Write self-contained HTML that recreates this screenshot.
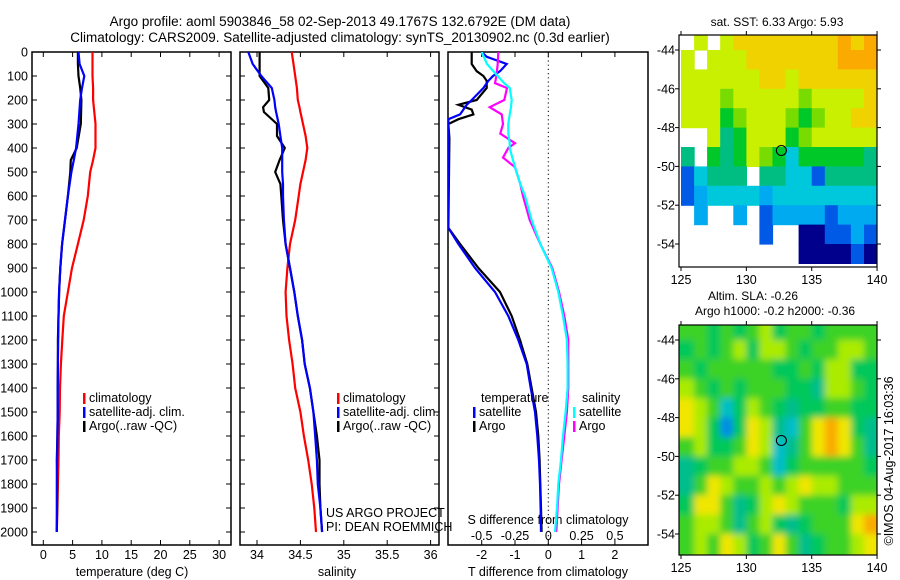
<!DOCTYPE html>
<html><head><meta charset="utf-8"><style>
html,body{margin:0;padding:0;background:#fff;width:900px;height:580px;overflow:hidden}
svg text{font-family:"Liberation Sans",sans-serif;fill:#000}
</style></head><body>
<svg id="s" width="900" height="580" xmlns="http://www.w3.org/2000/svg">
<text x="340" y="26" font-size="13.5" text-anchor="middle">Argo profile: aoml 5903846_58 02-Sep-2013 49.1767S 132.6792E (DM data)</text>
<text x="340" y="42" font-size="13.5" text-anchor="middle">Climatology: CARS2009. Satellite-adjusted climatology: synTS_20130902.nc (0.3d earlier)</text>
<g id="g"></g>
</svg>
<script>
// ---- profile data ----
const tDepth = [0,50,100,150,200,300,400,450,500,600,700,800,900,1000,1100,1200,1300,1400,1500,1600,1700,1800,1900,2000];
const tClim  = [8.4,8.4,8.4,8.5,8.5,8.9,8.9,8.5,8.0,7.6,6.9,5.9,4.9,4.2,3.5,3.25,3.0,2.85,2.8,2.65,2.6,2.5,2.4,2.3];
const tSat   = [6.0,6.2,7.0,6.6,6.3,6.0,5.6,5.2,4.8,4.2,3.7,3.2,2.9,2.7,2.6,2.55,2.5,2.45,2.45,2.4,2.35,2.3,2.3,2.3];
const tArgo  = [5.9,5.9,6.0,6.3,6.5,6.4,5.7,4.7,4.6,4.2,3.7,3.2,2.9,2.7,2.6,2.5,2.5,2.45,2.45,2.4,2.3,2.35,2.35,2.3];
const sDepth = [0,50,100,150,200,230,250,300,350,400,450,500,550,600,700,800,900,1000,1100,1200,1300,1400,1500,1600,1700,1800,1900,2000];
const sClim  = [34.40,34.42,34.44,34.46,34.47,34.49,34.50,34.53,34.56,34.58,34.56,34.53,34.50,34.48,34.44,34.38,34.35,34.33,34.34,34.37,34.41,34.44,34.50,34.54,34.59,34.63,34.66,34.68];
const sSat   = [33.90,33.95,34.05,34.17,34.20,34.21,34.22,34.25,34.27,34.29,34.29,34.29,34.30,34.30,34.31,34.33,34.38,34.43,34.47,34.52,34.55,34.61,34.65,34.67,34.69,34.70,34.73,34.75];
const sArgo  = [34.03,34.03,34.03,34.13,34.14,34.07,34.08,34.23,34.23,34.32,34.26,34.21,34.27,34.28,34.30,34.33,34.38,34.43,34.47,34.52,34.55,34.61,34.65,34.69,34.72,34.72,34.73,34.75];
const dtDepth = [0,20,50,80,100,120,150,200,220,240,260,280,300,360,733,800,900,1000,1100,1200,1300,1400,1500,1600,1700,1800,1900,2000];
const dtSat   = [-2.0,-1.85,-1.25,-1.45,-1.66,-1.8,-1.95,-2.3,-2.45,-2.55,-2.65,-3.0,-3.0,-3.0,-3.0,-2.7,-2.2,-1.6,-1.2,-0.9,-0.65,-0.53,-0.4,-0.33,-0.28,-0.25,-0.23,-0.22];
const dtArgo  = [-2.3,-2.3,-2.3,-2.15,-1.95,-1.85,-1.85,-2.15,-2.7,-2.3,-2.25,-2.7,-3.0,-2.97,-3.0,-2.65,-2.1,-1.45,-1.1,-0.85,-0.63,-0.5,-0.37,-0.3,-0.26,-0.24,-0.22,-0.2];
const dsDepth = [0,50,100,130,150,200,230,260,300,340,380,400,440,480,550,600,700,800,900,1000,1100,1200,1300,1400,1500,1600,1700,1800,1900,2000];
const dsSat   = [-0.5,-0.46,-0.38,-0.33,-0.29,-0.275,-0.28,-0.29,-0.3,-0.3,-0.29,-0.29,-0.27,-0.25,-0.21,-0.175,-0.125,-0.06,0.025,0.075,0.11,0.14,0.145,0.145,0.13,0.11,0.095,0.075,0.065,0.05];
const dsArgo  = [-0.375,-0.38,-0.39,-0.4,-0.31,-0.33,-0.44,-0.35,-0.34,-0.36,-0.25,-0.3,-0.34,-0.25,-0.21,-0.19,-0.14,-0.06,0.03,0.08,0.12,0.15,0.15,0.15,0.14,0.12,0.1,0.08,0.07,0.06];
const depthTicks = [0,100,200,300,400,500,600,700,800,900,1000,1100,1200,1300,1400,1500,1600,1700,1800,1900,2000];
const tTicks = [0,5,10,15,20,25,30];
const sTicks = ["34","34.5","35","35.5","36"];
const dtTicks = ["-2","-1","0","1","2"];
const dsTicks = ["-0.5","-0.25","0","0.25","0.5"];
// ---- map data (1-degree cells, rows from -43 to -55, cols 125..140; -1 = no data) ----
const sstGrid = [
[-1,7,-1,7,8,8,8,8,8,8,8,8,9,8,9],
[7,-1,7,7,7,8,8,8,8,8,8,8,9,9,9],
[7,7,7,7,7,7,8,8,7,8,8,8,8,8,8],
[7,7,7,6,7,7,7,7,7,6,7,7,7,7,8],
[7,7,7,5,6,7,7,7,6,5,6,7,7,8,8],
[-1,-1,7,4,5,7,7,7,5,6,7,7,7,7,7],
[4,-1,5,4,5,7,6,5,3,5,5,5,5,5,4],
[1,3,4,4,4,-1,4,4,3,3,1,4,4,4,4],
[1,2,3,3,3,3,2,3,3,3,3,3,3,3,3],
[-1,2,-1,-1,2,-1,1,2,2,2,2,1,2,2,2],
[-1,-1,-1,-1,-1,-1,1,-1,-1,0,0,1,1,2,1],
[-1,-1,-1,-1,-1,-1,-1,-1,-1,0,0,0,0,1,0]];
const slaGrid = [
[5,5,4,5,4,5,6,4,5,5,4,5,5,5,5],
[4,5,4,5,6,4,6,6,5,4,5,5,6,6,5],
[5,4,5,5,5,5,5,4,4,5,4,6,6,4,4],
[6,5,4,5,4,5,5,5,4,4,3,6,6,5,4],
[7,6,5,2,4,6,5,4,3,4,4,5,5,4,4],
[7,6,4,1,4,7,6,3,2,5,7,8,7,4,3],
[5,6,4,4,5,7,6,2,3,5,7,8,7,5,3],
[3,4,5,5,6,6,5,2,4,5,5,5,5,5,4],
[3,5,7,6,5,5,6,5,6,7,6,6,5,5,5],
[4,7,7,5,3,4,6,7,6,5,5,5,4,6,6],
[5,6,6,5,3,5,6,4,3,4,5,5,5,7,8],
[5,6,5,7,6,4,5,7,5,3,4,5,5,6,7]];
const lonTicks = [125,130,135,140];
const latTicks = [-44,-46,-48,-50,-52,-54];
const floatLon = 132.68, floatLat = -49.18;

const sstColors = ["#00008c","#005ae6","#00aaf0","#00c8dc","#00be82","#00c828","#78dc00","#c8f000","#f0d200","#faaa00"];
const slaColors = ["#00008c","#008ce6","#00bec8","#00be8c","#00c85a","#3cd228","#aaeb00","#f0e600","#faaa00"];

const NS="http://www.w3.org/2000/svg";
const G=document.getElementById('g');
function el(tag,attrs,parent){const e=document.createElementNS(NS,tag);for(const k in attrs)e.setAttribute(k,attrs[k]);(parent||G).appendChild(e);return e;}
function txt(x,y,s,size,anchor,parent){const t=el('text',{x:x,y:y,'font-size':size,'text-anchor':anchor||'start'},parent);t.textContent=s;return t;}

const TOP=52, BOT=545;
const yD = d => TOP + d*0.24;
function panel(x0,x1,name){
  const g=el('g',{});
  
  
  el('rect',{x:x0,y:TOP,width:x1-x0,height:BOT-TOP,fill:'none',stroke:'#000','stroke-width':1.5},g);
  return g;
}
function line(g,xs,ds,xf,color,name,w){
  const pts=xs.map((v,i)=>xf(v).toFixed(1)+','+yD(ds[i]).toFixed(1)).join(' ');
  const p=el('polyline',{points:pts,fill:'none',stroke:color,'stroke-width':w||2.2,'clip-path':'url(#c'+g.id+')'},g);
  
  
}
function clip(id,x0,x1){const d=el('clipPath',{id:'c'+id});el('rect',{x:x0,y:TOP,width:x1-x0,height:BOT-TOP},d);}

// Panel 1 temperature
const xT = t => 43.3 + t*5.86;
clip('p1',32,231);
const p1=panel(32,231,'temperature-panel'); p1.id='p1';
depthTicks.forEach(d=>{
  el('line',{x1:32,x2:37,y1:yD(d),y2:yD(d),stroke:'#000'},p1);
  el('line',{x1:226,x2:231,y1:yD(d),y2:yD(d),stroke:'#000'},p1);
  const t=txt(28,yD(d)+4.5,String(d),12.5,'end',p1);
  
  
});
tTicks.forEach(v=>{
  el('line',{x1:xT(v),x2:xT(v),y1:BOT,y2:BOT-5,stroke:'#000'},p1);
  el('line',{x1:xT(v),x2:xT(v),y1:TOP,y2:TOP+5,stroke:'#000'},p1);
  txt(xT(v),559,String(v),12.5,'middle',p1);
});
txt(132,576,'temperature (deg C)',12.5,'middle',p1);
line(p1,tClim,tDepth,xT,'#ff0000','temperature-climatology-line');
line(p1,tArgo,tDepth,xT,'#000000','temperature-argo-line');
line(p1,tSat,tDepth,xT,'#0000ff','temperature-satellite-line');

// Panel 2 salinity
const xS = s => 257 + (s-34)*86.8;
clip('p2',240,439);
const p2=panel(240,439,'salinity-panel'); p2.id='p2';
depthTicks.forEach(d=>{
  el('line',{x1:240,x2:245,y1:yD(d),y2:yD(d),stroke:'#000'},p2);
  el('line',{x1:434,x2:439,y1:yD(d),y2:yD(d),stroke:'#000'},p2);
});
sTicks.forEach(v=>{
  const x=xS(parseFloat(v));
  el('line',{x1:x,x2:x,y1:BOT,y2:BOT-5,stroke:'#000'},p2);
  el('line',{x1:x,x2:x,y1:TOP,y2:TOP+5,stroke:'#000'},p2);
  txt(x,559,v,12.5,'middle',p2);
});
txt(337,576,'salinity',12.5,'middle',p2);
line(p2,sClim,sDepth,xS,'#ff0000','salinity-climatology-line');
line(p2,sArgo,sDepth,xS,'#000000','salinity-argo-line');
line(p2,sSat,sDepth,xS,'#0000ff','salinity-satellite-line');

// legends
function legend(g,x,y,items){
  items.forEach((it,i)=>{
    const yy=y+i*14;
    el('rect',{x:x,y:yy-9,width:2.5,height:11,fill:it[1]},g);
    const t=txt(x+6,yy,it[0],12.5,'start',g);
    
    
  });
}
legend(p1,83,402,[['climatology','#ff0000'],['satellite-adj. clim.','#0000ff'],['Argo(..raw -QC)','#000']]);
legend(p2,337,402,[['climatology','#ff0000'],['satellite-adj. clim.','#0000ff'],['Argo(..raw -QC)','#000']]);
txt(326,517,'US ARGO PROJECT',12.5,'start',p2);
txt(326,531,'PI: DEAN ROEMMICH',12.5,'start',p2);

// Panel 3 differences
const xDT = v => 548.3 + v*33.3;
const xDS = v => 548.3 + v*133.2;
clip('p3',448,648);
const p3=panel(448,648,'difference-panel'); p3.id='p3';
el('line',{x1:548.3,x2:548.3,y1:TOP,y2:BOT,stroke:'#000','stroke-dasharray':'1.2,3'},p3);
dtTicks.forEach(v=>{
  const x=xDT(parseFloat(v));
  el('line',{x1:x,x2:x,y1:BOT,y2:BOT-5,stroke:'#000'},p3);
  el('line',{x1:x,x2:x,y1:TOP,y2:TOP+5,stroke:'#000'},p3);
  txt(x,559,v,12.5,'middle',p3);
});
dsTicks.forEach(v=>{ txt(xDS(parseFloat(v)),540,v,12.5,'middle',p3); });
txt(548,524,'S difference from climatology',12.5,'middle',p3);
txt(548,576,'T difference from climatology',12.5,'middle',p3);
line(p3,dtArgo,dtDepth,xDT,'#000000','t-difference-argo-line');
line(p3,dtSat,dtDepth,xDT,'#0000ff','t-difference-satellite-line');
line(p3,dsArgo,dsDepth,xDS,'#ff00ff','s-difference-argo-line');
line(p3,dsSat,dsDepth,xDS,'#00ffff','s-difference-satellite-line');
txt(481,402,'temperature',12.5,'start',p3);
legend(p3,473,416,[['satellite','#0000ff'],['Argo','#000']]);
txt(582,402,'salinity',12.5,'start',p3);
legend(p3,573,416,[['satellite','#00ffff'],['Argo','#ff00ff']]);

// Maps
function map(top,bot,grid,colors,name,smooth){
  const L=679,R=877;
  const lx = lon => 681 + (lon-125)*13.07;
  const ly = lat => top + 15 + (-44-lat)*19.4;
  const g=el('g',{});
  
  
  const cid='m'+top;
  const d=el('clipPath',{id:cid});el('rect',{x:L,y:top,width:R-L,height:bot-top},d);
  const cells=el('g',{'clip-path':'url(#'+cid+')'},g);
  let inner=cells;
  if(smooth){
    const f=el('filter',{id:'b'+top,x:'-10%',y:'-10%',width:'120%',height:'120%'});
    el('feGaussianBlur',{stdDeviation:3.5},f);
    inner=el('g',{filter:'url(#b'+top+')'},cells);
  }
  grid.forEach((row,r)=>row.forEach((v,c)=>{
    if(v<0)return;
    let x0=lx(125+c), x1=lx(126+c), y0=ly(-43-r), y1=ly(-44-r);
    if(smooth){ if(c==0)x0-=12; if(c==row.length-1)x1+=12; if(r==0)y0-=12; if(r==grid.length-1)y1+=12; }
    const rc=el('rect',{x:x0.toFixed(1),y:y0.toFixed(1),width:(x1-x0+0.6).toFixed(1),height:(y1-y0+0.6).toFixed(1),fill:colors[v]},inner);
    
    
  }));
  el('rect',{x:L,y:top,width:R-L,height:bot-top,fill:'none',stroke:'#000','stroke-width':1.2},g);
  lonTicks.forEach(v=>{
    el('line',{x1:lx(v),x2:lx(v),y1:bot,y2:bot+4,stroke:'#000'},g);
    el('line',{x1:lx(v),x2:lx(v),y1:top,y2:top-4,stroke:'#000'},g);
    txt(lx(v),bot+17,String(v),12.5,'middle',g);
  });
  latTicks.forEach(v=>{
    el('line',{x1:L,x2:L-4,y1:ly(v),y2:ly(v),stroke:'#000'},g);
    el('line',{x1:R,x2:R+4,y1:ly(v),y2:ly(v),stroke:'#000'},g);
    txt(L-4,ly(v)+4.5,String(v),12.5,'end',g);
  });
  const m=el('circle',{cx:lx(floatLon),cy:ly(floatLat),r:5,fill:'none',stroke:'#000','stroke-width':1.1},g);
  
  
}
map(35,267,sstGrid,sstColors,'sst-map',false);
map(325,555,slaGrid,slaColors,'sla-map',true);
txt(777,26,'sat. SST: 6.33 Argo: 5.93',12,'middle');
txt(753,300,'Altim. SLA: -0.26',12,'middle');
txt(775,315,'Argo h1000: -0.2 h2000: -0.36',12,'middle');
const v=txt(0,0,'©IMOS 04-Aug-2017 16:03:36',12.5,'middle');
v.setAttribute('transform','translate(893,461) rotate(-90)');


</script>
</body></html>
